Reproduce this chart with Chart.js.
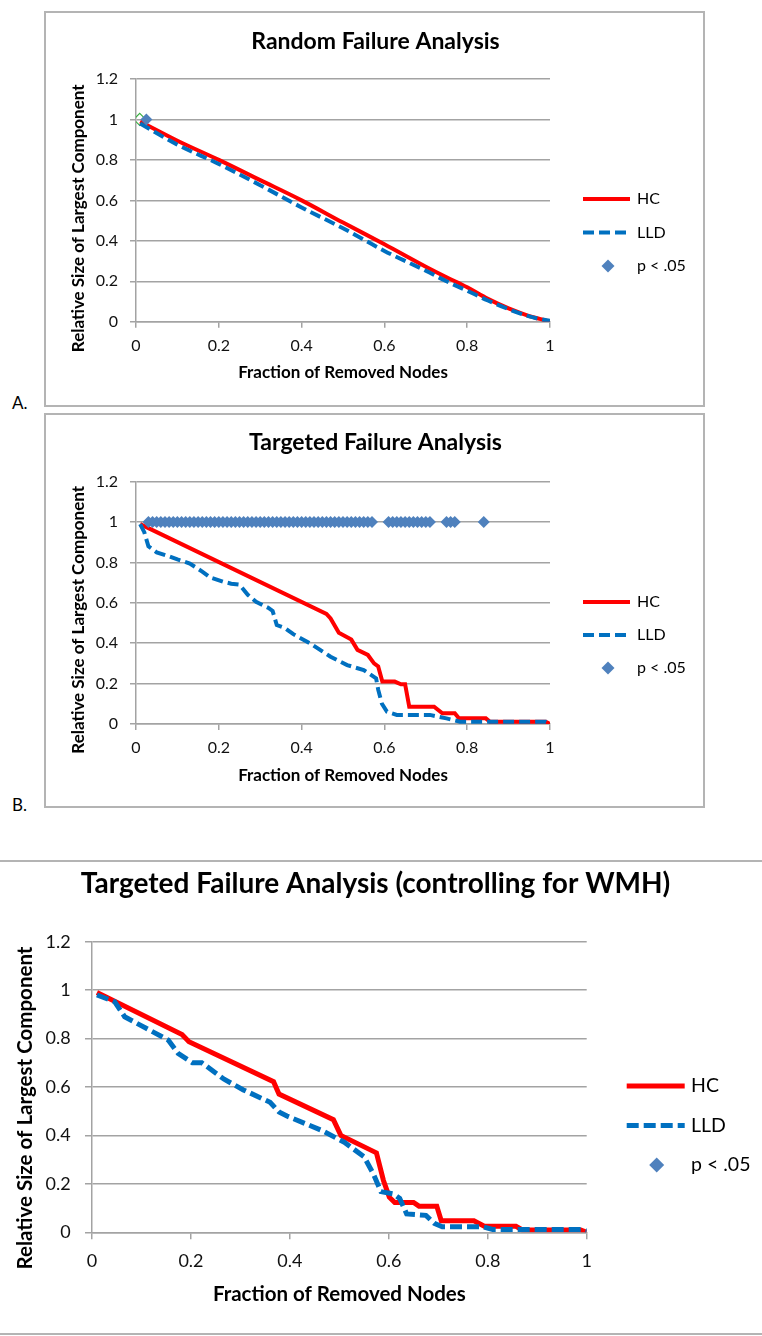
<!DOCTYPE html>
<html>
<head>
<meta charset="utf-8">
<script src="https://cdn.jsdelivr.net/npm/chart.js@4.4.1/dist/chart.umd.min.js"></script>
<style>
  body { margin: 0; background: #fff; width: 762px; height: 1336px; position: relative; overflow: hidden; font-family: Lato, 'Open Sans', sans-serif; }
  canvas { position: absolute; }
  .frame { position: absolute; border: 2px solid #b4b4b4; box-sizing: border-box; pointer-events: none; z-index: 2; }
  .rule { position: absolute; left: 0; width: 762px; height: 2px; background: #b4b4b4; }
  .tag { position: absolute; left: 12px; font-size: 17px; line-height: 20px; color: #000; }
</style>
</head>
<body>
<canvas id="chartA" width="661" height="394" style="left:45px;top:12px"></canvas>
<canvas id="chartB" width="661" height="393" style="left:45px;top:414px"></canvas>
<canvas id="chartC" width="762" height="469" style="left:0;top:863px"></canvas>
<div class="frame" style="left:44px;top:11px;width:661px;height:396px"></div>
<div class="frame" style="left:44px;top:413px;width:661px;height:395px"></div>
<div class="tag" style="top:393px">A.</div>
<div class="tag" style="top:795px">B.</div>
<div class="rule" style="top:860px"></div>
<div class="rule" style="top:1333px"></div>
<script>
// shared axes
const xTicks = [0, 0.2, 0.4, 0.6, 0.8, 1];
const yTicks = [0, 0.2, 0.4, 0.6, 0.8, 1, 1.2];
const sigLevel = 1; // p < .05 markers sit on the y = 1 line

// A. random failure
const randomX = [0.01, 0.1, 0.2, 0.3, 0.4, 0.5, 0.6, 0.7, 0.75, 0.8, 0.85, 0.9, 0.95, 0.975, 1.0];
const randomHC = [0.99, 0.895, 0.80, 0.70, 0.60, 0.49, 0.383, 0.272, 0.22, 0.17, 0.113, 0.066, 0.028, 0.014, 0.0];
const randomLLD = [0.98, 0.875, 0.78, 0.675, 0.565, 0.462, 0.35, 0.252, 0.2, 0.153, 0.105, 0.062, 0.026, 0.013, 0.004];
const randomSigX = [0.025];
const randomSelX = [0.009]; // outlined marker left of the first p < .05 point

// B. targeted failure
const targetHCX = [0.01, 0.46, 0.47, 0.49, 0.52, 0.535, 0.56, 0.575, 0.585, 0.595, 0.625, 0.64, 0.65, 0.66, 0.72, 0.74, 0.77, 0.78, 0.845, 0.855, 0.99, 1.0];
const targetHC = [0.99, 0.545, 0.523, 0.452, 0.418, 0.367, 0.342, 0.30, 0.285, 0.21, 0.21, 0.197, 0.197, 0.086, 0.086, 0.053, 0.053, 0.028, 0.028, 0.011, 0.011, 0.0];
const targetLLDX = [0.01, 0.02, 0.03, 0.05, 0.08, 0.1, 0.13, 0.16, 0.18, 0.21, 0.23, 0.25, 0.27, 0.29, 0.32, 0.33, 0.34, 0.36, 0.38, 0.42, 0.47, 0.51, 0.55, 0.58, 0.585, 0.594, 0.606, 0.63, 0.71, 0.75, 0.783, 0.99, 1.0];
const targetLLD = [0.99, 0.95, 0.88, 0.85, 0.83, 0.815, 0.795, 0.755, 0.725, 0.705, 0.695, 0.69, 0.64, 0.605, 0.575, 0.56, 0.49, 0.475, 0.445, 0.40, 0.333, 0.292, 0.267, 0.226, 0.17, 0.10, 0.061, 0.045, 0.045, 0.028, 0.011, 0.011, 0.0];
const targetSigX = [0.03, 0.04, 0.05, 0.06, 0.07, 0.08, 0.09, 0.10, 0.11, 0.12, 0.13, 0.14, 0.15, 0.16, 0.17, 0.18, 0.19, 0.20,
  0.21, 0.22, 0.23, 0.24, 0.25, 0.26, 0.27, 0.28, 0.29, 0.30, 0.31, 0.32, 0.33, 0.34, 0.35, 0.36, 0.37, 0.38, 0.39, 0.40,
  0.41, 0.42, 0.43, 0.44, 0.45, 0.46, 0.47, 0.48, 0.49, 0.50, 0.51, 0.52, 0.53, 0.54, 0.55, 0.56, 0.57,
  0.61, 0.62, 0.63, 0.64, 0.65, 0.66, 0.67, 0.68, 0.69, 0.70, 0.71,
  0.75, 0.76, 0.77,
  0.84];

// C. targeted failure controlling for WMH
const wmhHCX = [0.01, 0.182, 0.196, 0.367, 0.378, 0.488, 0.503, 0.575, 0.589, 0.601, 0.612, 0.65, 0.661, 0.697, 0.706, 0.772, 0.793, 0.857, 0.87, 0.988, 1.0];
const wmhHC = [0.99, 0.817, 0.787, 0.622, 0.571, 0.465, 0.40, 0.328, 0.215, 0.145, 0.123, 0.123, 0.108, 0.108, 0.048, 0.048, 0.025, 0.025, 0.01, 0.01, 0.0];
const wmhLLDX = [0.01, 0.046, 0.066, 0.154, 0.174, 0.203, 0.222, 0.267, 0.306, 0.36, 0.378, 0.394, 0.463, 0.51, 0.55, 0.569, 0.584, 0.61, 0.622, 0.636, 0.675, 0.692, 0.708, 0.79, 0.81, 0.99, 1.0];
const wmhLLD = [0.98, 0.952, 0.89, 0.794, 0.739, 0.70, 0.70, 0.632, 0.588, 0.537, 0.497, 0.48, 0.422, 0.372, 0.312, 0.24, 0.168, 0.158, 0.14, 0.076, 0.07, 0.037, 0.023, 0.023, 0.012, 0.012, 0.005];
const wmhSigX = [];

Chart.defaults.font.family = "Lato, 'Open Sans', sans-serif";
const gridGray = '#a3a3a3';

const pts = (xs, ys) => xs.map((x, i) => ({ x: x, y: ys[i] }));
const sigPts = xs => xs.map(x => ({ x: x, y: sigLevel }));

// legend drawn in the space to the right of the plot
const sideLegend = {
  id: 'sideLegend',
  afterDraw(chart, args, o) {
    const { ctx, chartArea } = chart;
    const items = chart.data.datasets.filter(d => !d.noLegend);
    ctx.save();
    ctx.font = o.size + "px Lato, 'Open Sans', sans-serif";
    ctx.textBaseline = 'middle';
    ctx.textAlign = 'left';
    items.forEach((d, i) => {
      const x = chartArea.right;
      const y = chartArea.top + o.top + i * o.gap;
      if (d.showLine === false) {
        ctx.fillStyle = d.backgroundColor;
        Chart.helpers.drawPoint(ctx, { pointStyle: d.pointStyle, radius: d.pointRadius + 0.5, borderWidth: 0 }, x + o.marker, y);
      } else {
        ctx.strokeStyle = d.borderColor;
        ctx.lineWidth = d.borderWidth;
        ctx.setLineDash(d.borderDash || []);
        ctx.beginPath();
        ctx.moveTo(x + o.left, y);
        ctx.lineTo(x + o.left + o.line, y);
        ctx.stroke();
        ctx.setLineDash([]);
      }
      ctx.fillStyle = '#000';
      ctx.fillText(d.label, x + o.text, y);
    });
    ctx.restore();
  }
};

// the y title sits a little below the middle of the plot, as in the original
const yTitleShift = {
  id: 'yTitleShift',
  beforeDraw(chart, args, o) {
    const s = chart.scales.y;
    if (s._shifted) return;
    const draw = s.drawTitle;
    s.drawTitle = function () {
      this.top += o.dy; this.bottom += o.dy;
      draw.call(this);
      this.top -= o.dy; this.bottom -= o.dy;
    };
    s._shifted = true;
  }
};

function lineSet(label, data, color, width, dash, order, smooth) {
  return {
    label: label, data: data, borderColor: color, backgroundColor: color,
    borderWidth: width, borderDash: dash, pointRadius: 0, order: order,
    cubicInterpolationMode: smooth ? 'monotone' : 'default', tension: 0, yAxisID: 'y'
  };
}

function sigSet(data, r) {
  return {
    label: 'p < .05', data: data, showLine: false, pointStyle: 'rectRot',
    pointRadius: r, backgroundColor: '#4f81bd', borderColor: '#4f81bd', borderWidth: 0, order: 0, yAxisID: 'y'
  };
}

function panel(id, title, datasets, L) {
  new Chart(document.getElementById(id), {
    type: 'line',
    data: { datasets: datasets },
    options: {
      responsive: false,
      animation: false,
      events: [],
      layout: { padding: { left: 0, right: L.padRight, top: 0, bottom: 0 } },
      plugins: {
        legend: { display: false },
        tooltip: { enabled: false },
        title: {
          display: true, text: title, color: '#000',
          font: { size: L.titleSize, weight: 'bold' },
          padding: { top: L.titleTop, bottom: L.titleBottom }
        },
        sideLegend: L.legend,
        yTitleShift: { dy: L.yTitleDy }
      },
      scales: {
        x: {
          type: 'linear', min: 0, max: 1,
          afterBuildTicks: s => { s.ticks = xTicks.map(v => ({ value: v })); },
          afterFit: s => { s.height = L.xAxisH; },
          grid: { drawOnChartArea: false, tickLength: L.tick, color: gridGray, lineWidth: 1.5 },
          border: { color: gridGray, width: 1.5 },
          ticks: { padding: L.xTickPad, color: '#111', maxRotation: 0, font: { size: L.tickSize }, callback: v => String(v) },
          title: {
            display: true, text: 'Fraction of Removed Nodes', color: '#000',
            font: { size: L.axisSize, weight: 'bold' }, padding: { top: 0, bottom: L.xTitlePad }
          }
        },
        y: {
          type: 'linear', min: 0, max: 1.2,
          afterBuildTicks: s => { s.ticks = yTicks.map(v => ({ value: v })); },
          afterFit: s => { s.width = L.yAxisW; },
          grid: { tickLength: L.tick, color: gridGray, lineWidth: 1.5 },
          border: { color: gridGray, width: 1.5 },
          ticks: { padding: L.yTickPad, color: '#111', font: { size: L.tickSize }, callback: v => String(v) },
          title: {
            display: true, text: 'Relative Size of Largest Component', color: '#000',
            font: { size: L.axisSize, weight: 'bold' }, padding: { top: L.yTitlePad, bottom: 0 }
          }
        },
        space: {
          type: 'linear', position: 'right',
          ticks: { display: false }, grid: { display: false }, border: { display: false },
          afterFit: s => { s.width = L.space; }
        }
      }
    },
    plugins: [sideLegend, yTitleShift]
  });
}

const smallLook = {
  padRight: 0, space: 156, yAxisW: 91, xAxisH: 84.3,
  titleSize: 23, titleTop: 16.2, titleBottom: 23.2,
  axisSize: 17, tickSize: 16, tick: 6, xTickPad: 8.4, yTickPad: 12,
  xTitlePad: 22.8, yTitlePad: 23.8, yTitleDy: 18,
  legend: { size: 16, top: 120, gap: 33.5, left: 33, line: 47, marker: 58, text: 87 }
};

panel('chartA', 'Random Failure Analysis', [
  lineSet('HC', pts(randomX, randomHC), '#ff0000', 4, [], 2, true),
  lineSet('LLD', pts(randomX, randomLLD), '#0070c0', 4, [11, 5], 1, true),
  sigSet(sigPts(randomSigX), 6),
  { label: 'selected', noLegend: true, data: sigPts(randomSelX), showLine: false, pointStyle: 'rectRot',
    pointRadius: 6, backgroundColor: 'rgba(0,0,0,0)', borderColor: '#3cb043', borderWidth: 1.2, order: 3, yAxisID: 'y' }
], smallLook);

panel('chartB', 'Targeted Failure Analysis', [
  lineSet('HC', pts(targetHCX, targetHC), '#ff0000', 4, [], 2, false),
  lineSet('LLD', pts(targetLLDX, targetLLD), '#0070c0', 4, [11, 5], 1, false),
  sigSet(sigPts(targetSigX), 6)
], Object.assign({}, smallLook, { xAxisH: 83, titleTop: 15.2, titleBottom: 24.9, xTitlePad: 20.8, yTitleDy: 17,
  legend: { size: 16, top: 120.3, gap: 33, left: 33, line: 47, marker: 58, text: 87 } }));

panel('chartC', 'Targeted Failure Analysis (controlling for WMH)', [
  lineSet('HC', pts(wmhHCX, wmhHC), '#ff0000', 5, [], 2, false),
  lineSet('LLD', pts(wmhLLDX, wmhLLD), '#0070c0', 5, [12, 5], 1, false),
  sigSet(sigPts(wmhSigX), 7)
], {
  padRight: 11, space: 164.3, yAxisW: 92, xAxisH: 99.7,
  titleSize: 28, titleTop: 4.2, titleBottom: 40.9,
  axisSize: 20.5, tickSize: 18, tick: 7, xTickPad: 10.9, yTickPad: 14.3,
  xTitlePad: 25.7, yTitlePad: 12.7, yTitleDy: 21,
  legend: { size: 19.5, top: 144.3, gap: 39.5, left: 40, line: 58, marker: 70, text: 104.3 }
});
</script>
</body>
</html>
